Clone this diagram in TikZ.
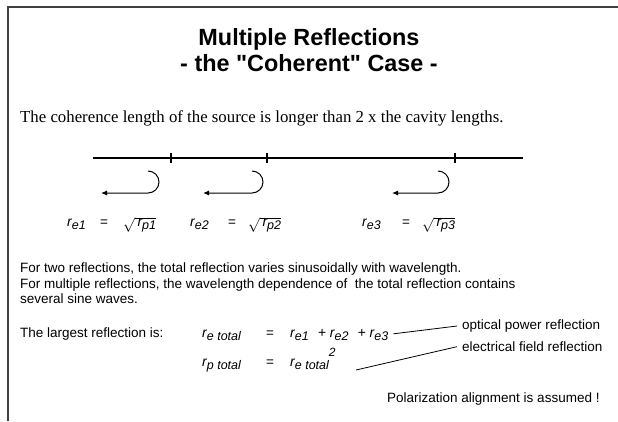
\documentclass[tikz,border=0pt]{standalone}
\usepackage{fontspec}
\setmainfont{Liberation Serif}
\setsansfont{Liberation Sans}
\usetikzlibrary{arrows.meta,positioning}

\newcommand{\refl}[1]{r\raisebox{-0.35ex}{\fontsize{12.5}{12.5}\selectfont #1}}

\tikzset{
  body/.style={font=\sffamily\fontsize{13.5}{16}\selectfont,inner sep=0pt,anchor=base west},
  sym/.style={font=\sffamily\itshape\fontsize{14}{16}\selectfont,inner sep=0pt,anchor=base west},
  heading/.style={font=\sffamily\bfseries\fontsize{23.4}{27}\selectfont,inner sep=0pt,anchor=base},
  beam/.style={line width=2.5pt},
  notch/.style={line width=2pt},
  hook/.style={line width=1pt,-{Latex[length=6pt,width=5pt]}},
  pointer/.style={line width=0.8pt}
}

\begin{document}
\begin{tikzpicture}[x=1pt,y=-1pt]
\useasboundingbox (0,0) rectangle (618,421);

% frame
\draw[line width=1.5pt,black!75] (618,7) -- (8,7) -- (8,421);

% title
\node[heading] (title1) at (309,45) {Multiple Reflections};
\node[heading] (title2) at (309,71) {- the \textquotedbl Coherent\textquotedbl{} Case -};

\node[anchor=base west,inner sep=0pt,font=\fontsize{16.8}{19}\selectfont] (coh) at (20,122)
  {The coherence length of the source is longer than 2 x the cavity lengths.};

% fibre with three reflection points
\draw[beam] (93,158) -- (523,158);
\foreach \t in {171,267,455}
  \draw[notch] (\t,153) -- (\t,163);

\foreach \h/\tip in {148/101,252/203,438/392}
  \draw[hook] (\h,171) arc[start angle=-90,end angle=90,radius=11] -- (\tip,193);

\foreach \i/\xa/\xb/\xc in {1/67/100/123,2/190/228/248,3/362/402/422}{
  \node[sym] (re\i) at (\xa,226.5) {\refl{e\i}};
  \node[body] (eq\i) at (\xb,226.5) {=};
  \node[sym] (rp\i) at (\xc,226.5) {$\sqrt{\mbox{\,\refl{p\i}}}$};
}

% text
\node[body] (line1) at (20,272.5) {For two reflections, the total reflection varies sinusoidally with wavelength.};
\node[body] (line2) at (20,288) {For multiple reflections, the wavelength dependence of \ the total reflection contains};
\node[body] (line3) at (20,303.5) {several sine waves.};

\node[body] (largest) at (20,337.5) {The largest reflection is:};

\node[sym] (etot) at (202,337.5) {\refl{e total}};
\node[body] (eqa) at (266,337.5) {=};
\node[sym] (sum) at (290,337.5) {\refl{e1}\hspace{9pt}+\hspace{4pt}\refl{e2}\hspace{9pt}+\hspace{4pt}\refl{e3}};

\node[sym] (ptot) at (202,366.5) {\refl{p total}};
\node[body] (eqb) at (266,366.5) {=};
\node[sym] (sq) at (290,366.5) {\refl{e total}\raisebox{1.3ex}{\fontsize{12}{12}\selectfont 2}};

\node[body] (opt) at (462,329.5) {optical power reflection};
\node[body] (elec) at (462,351.5) {electrical field reflection};

\coordinate (sqtail) at (356,370);
\draw[pointer] ([xshift=5pt,yshift=1pt]sum.east) -- ([xshift=-5pt]opt.west);
\draw[pointer] (sqtail) -- ([xshift=-5pt]elec.west);

\node[body] (polar) at (387,402.5) {Polarization alignment is assumed !};
\end{tikzpicture}
\end{document}
